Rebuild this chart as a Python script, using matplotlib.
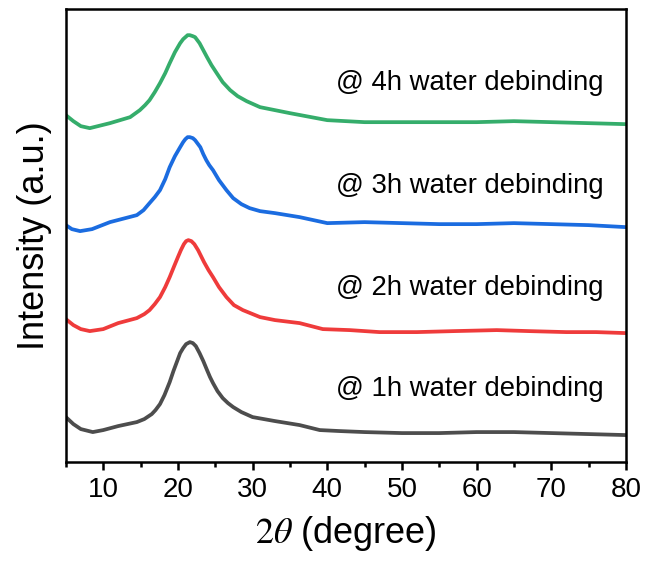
import numpy as np
import matplotlib
matplotlib.use('Agg')
from matplotlib import pyplot as plt
from matplotlib.ticker import MultipleLocator

plt.rcParams['font.family'] = ['Liberation Sans', 'DejaVu Sans']
plt.rcParams['mathtext.fontset'] = 'stix'

# 2theta positions (degree) and intensities (a.u., already stacked)
x_1h = [5.0, 6.0, 7.0, 8.6, 10.0, 12.0, 14.5, 15.5, 16.5, 17.0, 17.6, 18.2, 18.9, 19.4,
        19.9, 20.3, 20.7, 21.1, 21.6, 22.0, 22.4, 22.9, 23.4, 23.9, 24.3, 24.7, 25.3,
        26.0, 26.7, 27.4, 28.5, 30.0, 33.0, 36.3, 39.0, 41.7, 45, 50, 55, 60, 65, 70, 75, 80]
y_1h = [45, 38, 33, 30, 32, 36, 40, 43, 48, 52, 58, 67, 80, 91,
        101, 109, 114, 118, 120, 119, 116, 109, 101, 92, 85, 79, 71,
        64, 59, 55, 50, 45, 41, 37, 32, 31, 30, 29, 29, 30, 30, 29, 28, 27]

x_2h = [5.0, 6.0, 7.0, 8.2, 10.0, 12.0, 14.5, 15.5, 16.2, 16.9, 17.6, 18.3, 18.9, 19.5,
        20.0, 20.4, 20.8, 21.1, 21.4, 21.8, 22.2, 22.7, 23.1, 23.5, 24.1, 24.7, 25.5,
        26.5, 27.5, 28.7, 31.0, 33.0, 36.3, 39.4, 43, 47, 52, 57, 62.7, 67, 72, 76, 80]
y_2h = [143, 137, 133, 131, 133, 139, 144, 148, 152, 158, 165, 175, 185, 196,
        205, 212, 218, 221, 222, 221, 218, 212, 206, 200, 192, 185, 175,
        165, 157, 152, 145, 142, 139, 133, 132, 130, 130, 131, 132, 131, 130, 130, 129]

x_3h = [5.0, 5.8, 6.9, 8.5, 10.9, 14.5, 15.4, 16.2, 16.9, 17.6, 18.3, 18.9, 19.6, 20.3,
        20.7, 21.0, 21.3, 21.6, 22.0, 22.3, 22.6, 23.0, 23.4, 23.8, 24.2, 24.7, 25.5,
        26.5, 27.4, 28.5, 29.6, 31.0, 33.0, 36.3, 40.0, 45, 50, 55, 60, 65, 70, 75, 80]
y_3h = [237, 233, 231, 233, 240, 247, 252, 259, 265, 272, 283, 295, 306, 315,
        320, 323, 325, 325, 324, 322, 319, 315, 308, 302, 297, 292, 282,
        272, 264, 258, 254, 251, 249, 245, 239, 240, 239, 238, 238, 239, 238, 237, 235]

x_4h = [5.0, 6.0, 7.0, 8.2, 10.9, 13.6, 14.9, 15.6, 16.2, 16.9, 17.6, 18.3, 18.9, 19.6,
        20.3, 20.7, 21.0, 21.3, 21.6, 22.0, 22.3, 22.6, 22.9, 23.4, 23.9, 24.5, 25.2,
        26.0, 27.0, 28.0, 29.2, 31.0, 33.0, 35.0, 40.0, 45, 50, 55, 60, 65, 70, 75, 80]
y_4h = [347, 341, 336, 334, 339, 345, 352, 357, 362, 370, 379, 389, 399, 410,
        419, 423, 425, 427, 427, 426, 425, 422, 419, 412, 405, 397, 389,
        380, 372, 366, 361, 355, 352, 349, 342, 340, 340, 340, 340, 341, 340, 339, 338]

labels = ['@ 1h water debinding', '@ 2h water debinding',
          '@ 3h water debinding', '@ 4h water debinding']
label_y = [73, 174, 276, 379]
colors = ['#4d4d4d', '#ef3b3b', '#1b6ce0', '#35ad6b']

fig = plt.figure(figsize=(6.46, 5.74), dpi=100)
ax = fig.add_axes([0.102, 0.195, 0.867, 0.789])

series = [(x_1h, y_1h), (x_2h, y_2h), (x_3h, y_3h), (x_4h, y_4h)]
for (xs, ys), c in zip(series, colors):
    ax.plot(xs, ys, color=c, lw=2.7, solid_joinstyle='round', solid_capstyle='round')

for lab, ly in zip(labels, label_y):
    ax.text(41.2, ly, lab, fontsize=19.8, va='center', ha='left')

ax.set_xlim(5, 80)
ax.set_ylim(0, 453)
ax.xaxis.set_major_locator(MultipleLocator(10))
ax.xaxis.set_minor_locator(MultipleLocator(5))
ax.set_yticks([])
ax.tick_params(axis='x', which='major', direction='out', length=6, width=1.8,
               labelsize=20, pad=5, top=False)
ax.tick_params(axis='x', which='minor', direction='out', length=3.5, width=1.8, top=False)
for s in ax.spines.values():
    s.set_linewidth(1.8)

ax.set_xlabel(r'$2\theta$ (degree)', fontsize=26, labelpad=8)
ax.set_ylabel('Intensity (a.u.)', fontsize=26, labelpad=10)

plt.savefig('out.png', dpi=100)
